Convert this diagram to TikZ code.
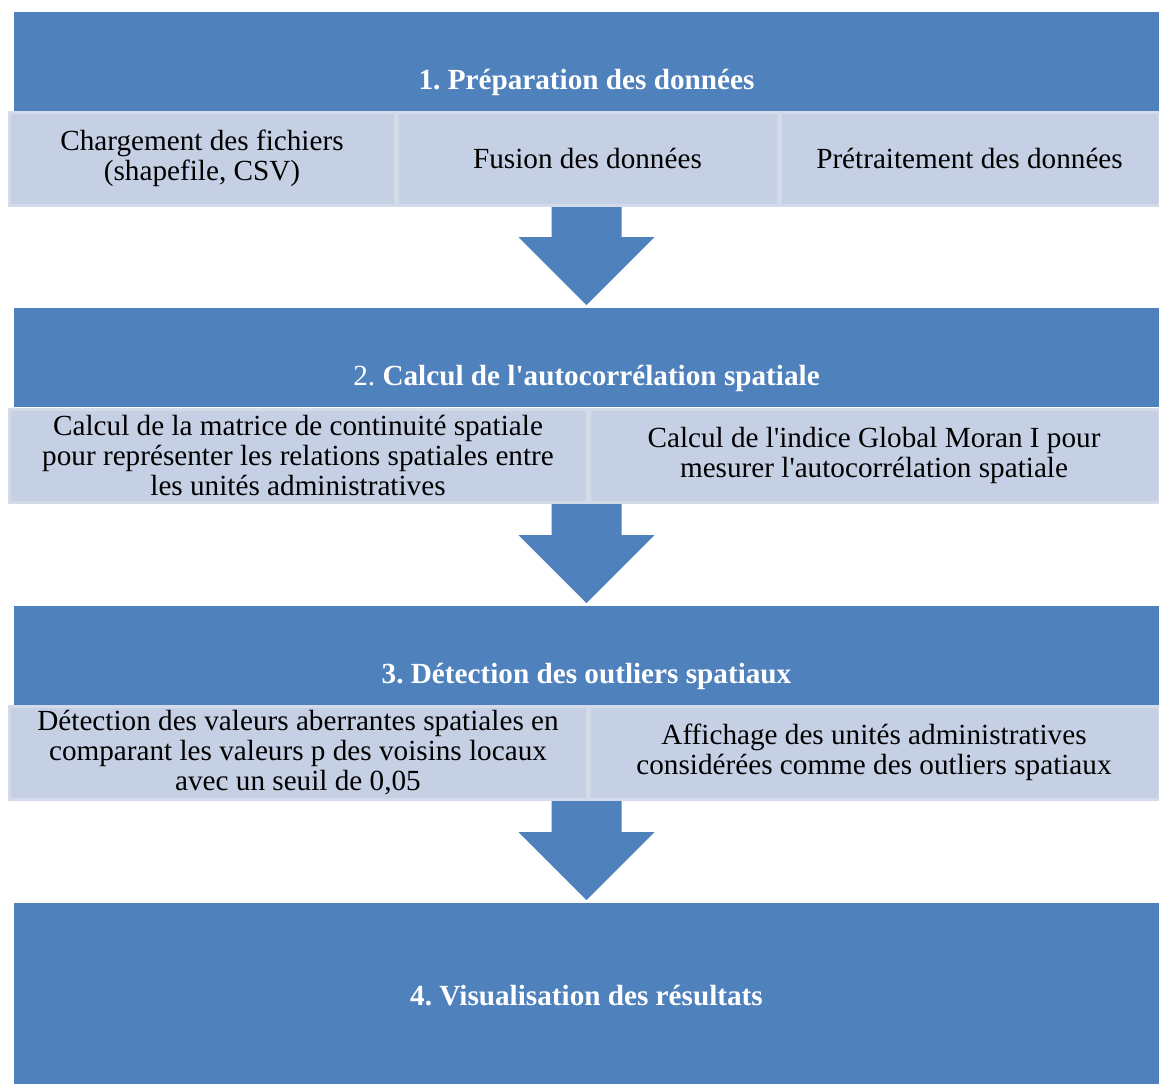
\documentclass[tikz,border=0pt]{standalone}
\usepackage{fontspec}
\setmainfont{Liberation Serif}
\usetikzlibrary{positioning}
\usetikzlibrary{calc}
\frenchspacing
\definecolor{bandblue}{HTML}{4F81BD}
\definecolor{boxfill}{HTML}{C5D0E5}
\definecolor{boxline}{HTML}{D3DAEA}
% block arrow from the bottom of a row (#1) to its tip (#2)
\newcommand{\flowarrow}[2]{%
  \fill[bandblue] ($(#1)+(-35,0)$) -- ($(#1)+(35,0)$) -- ($(#2)+(35,-68)$)
    -- ($(#2)+(68,-68)$) -- (#2) -- ($(#2)+(-68,-68)$) -- ($(#2)+(-35,-68)$) -- cycle;}
\newcommand{\apos}{\textquotesingle}

\begin{document}
\begin{tikzpicture}[x=0.5pt,y=-0.5pt,
    every node/.style={font=\fontsize{14.6}{15}\selectfont},
    band/.style={fill=bandblue,text=white,inner sep=0pt,minimum width=572.5pt,
      text height=38.5pt,text depth=11pt,font=\fontsize{14.6}{15}\selectfont\bfseries},
    stepbox/.style={fill=boxfill,draw=boxline,line width=1.5pt,inner sep=0pt,
      minimum height=46.5pt,align=center}]
			\useasboundingbox (0,0) rectangle (1159,1084);
			% draw bands
			\node[band,anchor=north] (band1) at (586.5,12) {1. Préparation des données};
			\node[band,anchor=north] (band2) at (586.5,308) {\mdseries 2. \bfseries Calcul de l\apos autocorrélation spatiale};
			\node[band,anchor=north] (band3) at (586.5,606) {3. Détection des outliers spatiaux};
			\node[band,anchor=north,text height=51pt,text depth=39.5pt] (band4) at (586.5,903) {4. Visualisation des résultats};
			% draw arrows
			\coordinate (tip1) at ($(band2.north)+(0,-3)$);
			\coordinate (tip2) at ($(band3.north)+(0,-3)$);
			\coordinate (tip3) at ($(band4.north)+(0,-3)$);
			\flowarrow{band2.north |- 0,205}{tip1}
			\flowarrow{band3.north |- 0,502}{tip2}
			\flowarrow{band4.north |- 0,799}{tip3}
			% draw steps
			\node[stepbox,minimum width=193pt] (prep1) at (202,158.5) {Chargement des fichiers\\(shapefile, CSV)};
			\node[stepbox,minimum width=190.5pt] (prep2) at (587.5,158.5) {Fusion des données};
			\node[stepbox,minimum width=189.5pt] (prep3) at (969.5,158.5) {Prétraitement des données};
			\node[stepbox,minimum width=289pt] (calc1) at (298,455.5) {Calcul de la matrice de continuité spatiale\\pour représenter les relations spatiales entre\\les unités administratives};
			\node[stepbox,minimum width=285pt] (calc2) at (874,455.5) {Calcul de l\apos indice Global Moran I pour\\mesurer l\apos autocorrélation spatiale};
			\node[stepbox,minimum width=289pt] (det1) at (298,752.5) {Détection des valeurs aberrantes spatiales en\\comparant les valeurs p des voisins locaux\\avec un seuil de 0,05};
			\node[stepbox,minimum width=285pt] (det2) at (874,752.5) {Affichage des unités administratives\\considérées comme des outliers spatiaux};
		\end{tikzpicture}
\end{document}
